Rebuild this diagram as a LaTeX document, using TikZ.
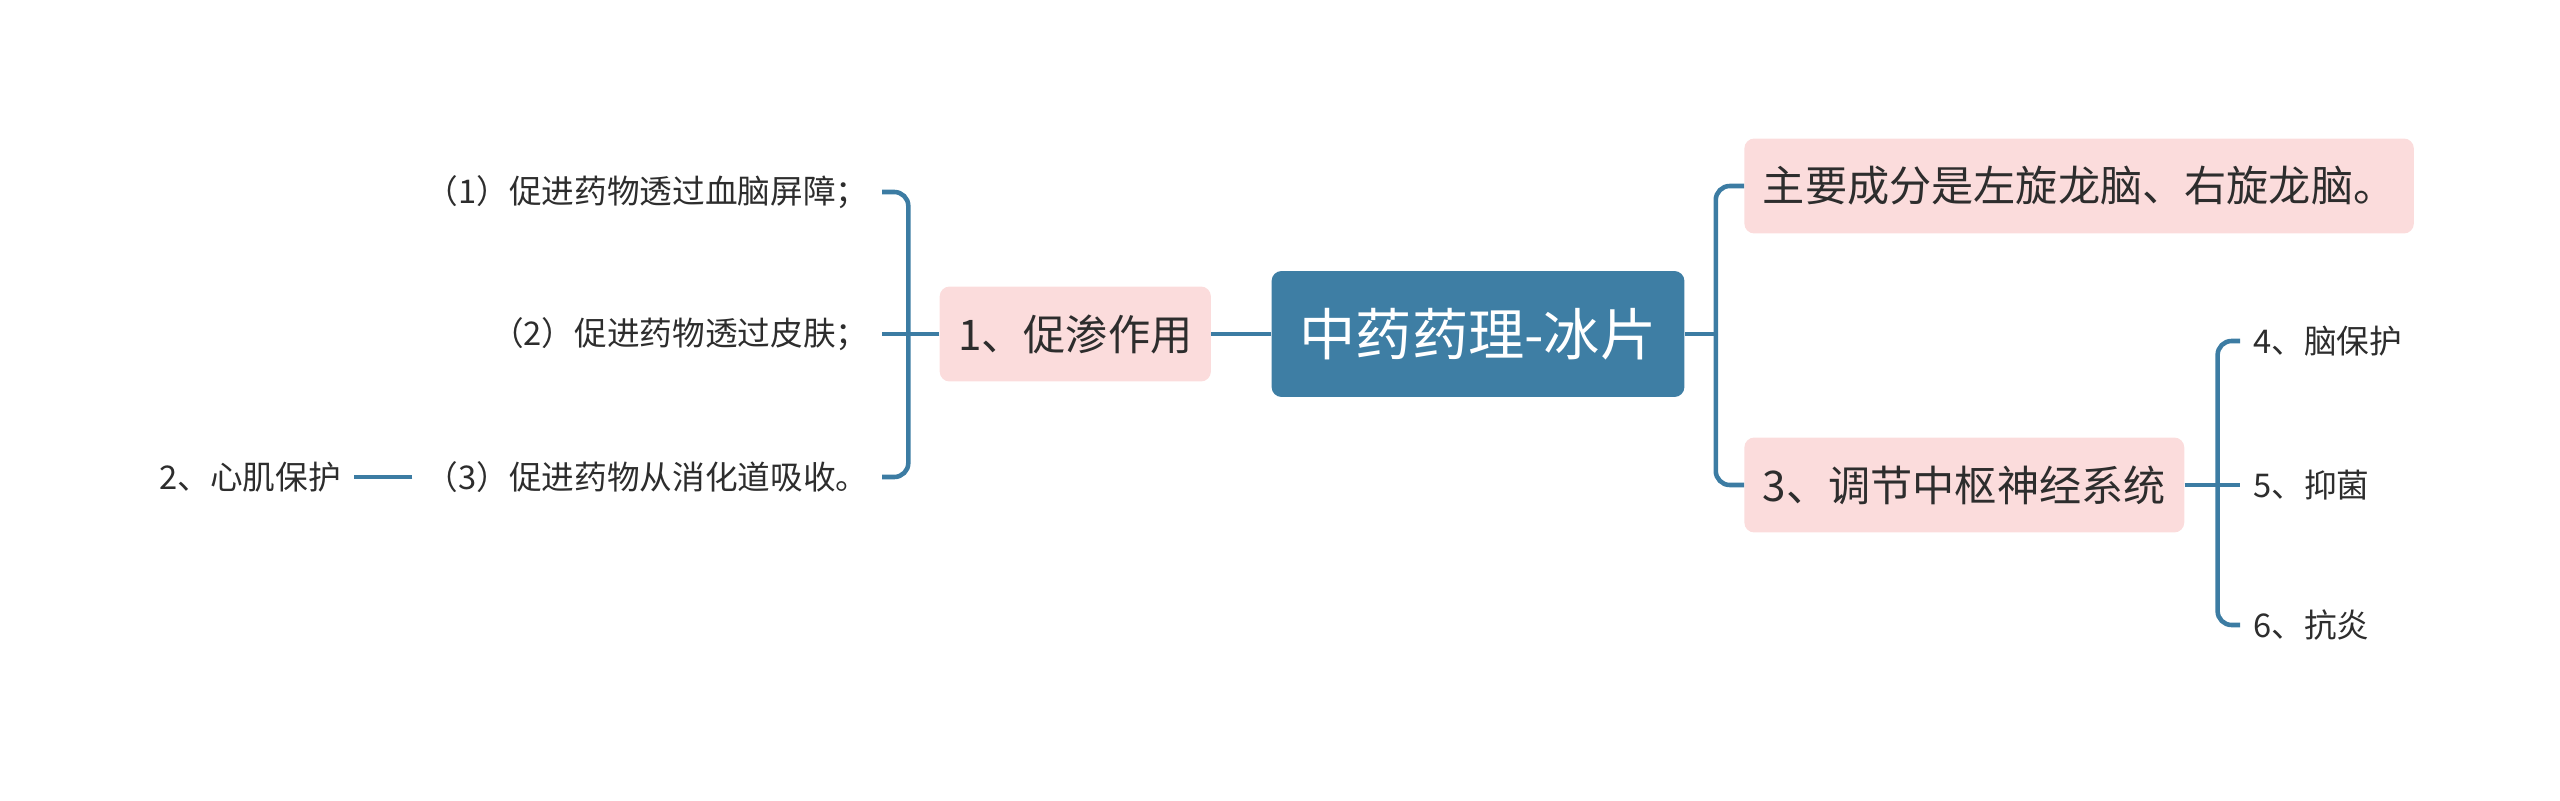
\documentclass[tikz,border=0pt]{standalone}
\usepackage{fontspec}
\setmainfont{Noto Sans CJK SC}
\usetikzlibrary{positioning}

\definecolor{rootblue}{RGB}{62,126,164}
\definecolor{linkblue}{RGB}{60,124,163}
\definecolor{topicpink}{RGB}{251,220,220}
\definecolor{inkgray}{RGB}{45,45,45}

\begin{document}
\begin{tikzpicture}[
  x=0.02cm, y=-0.02cm,
  root/.style={rounded corners=0.2cm,fill=rootblue,text=white,
    font=\fontsize{32}{38}\selectfont,inner xsep=0.56cm,minimum height=2.52cm},
  topic/.style={rounded corners=0.2cm,fill=topicpink,text=inkgray,
    font=\fontsize{24}{29}\selectfont,inner xsep=0.37cm,minimum height=1.9cm},
  leaf/.style={text=inkgray,font=\fontsize{18.6}{22}\selectfont,inner xsep=0.26cm,inner ysep=0.1cm},
  branch/.style={draw=linkblue,line width=2.6pt,rounded corners=0.28cm}
]
  \useasboundingbox (0,0) rectangle (2560,801);

  \node[root] (root) at (1478,334) {中药药理-冰片};
  \node[topic,left=1.2cm of root] (promote) {1、促渗作用};
  \node[leaf,anchor=east] (bbb) at (882,192) {（1）促进药物透过血脑屏障；};
  \node[leaf,anchor=east] (skin) at (882,334) {（2）促进药物透过皮肤；};
  \node[leaf,anchor=east] (gut) at (882,477) {（3）促进药物从消化道吸收。};
  \node[leaf,left=1.16cm of gut] (heart) {2、心肌保护};

  \node[topic,anchor=west] (borneol) at (1744,186) {主要成分是左旋龙脑、右旋龙脑。};
  \node[topic,anchor=west] (cns) at (1744,485) {3、调节中枢神经系统};
  \node[leaf,anchor=west] (brain) at (2240,341) {4、脑保护};
  \node[leaf,anchor=west] (germ) at (2240,485) {5、抑菌};
  \node[leaf,anchor=west] (inflam) at (2240,625) {6、抗炎};

  % left side
  \draw[branch] (root) -- (promote);
  \draw[branch] (promote.west) -- ++(-31,0) coordinate (lj) -- (skin.east);
  \draw[branch] (lj) |- (bbb.east);
  \draw[branch] (lj) |- (gut.east);
  \draw[branch] (gut) -- (heart);

  % right side
  \draw[branch] (root.east) -- ++(31,0) coordinate (rj);
  \draw[branch] (rj) |- (borneol.west);
  \draw[branch] (rj) |- (cns.west);
  \draw[branch] (cns.east) -- ++(33,0) coordinate (cj) -- (germ.west);
  \draw[branch] (cj) |- (brain.west);
  \draw[branch] (cj) |- (inflam.west);
\end{tikzpicture}
\end{document}
